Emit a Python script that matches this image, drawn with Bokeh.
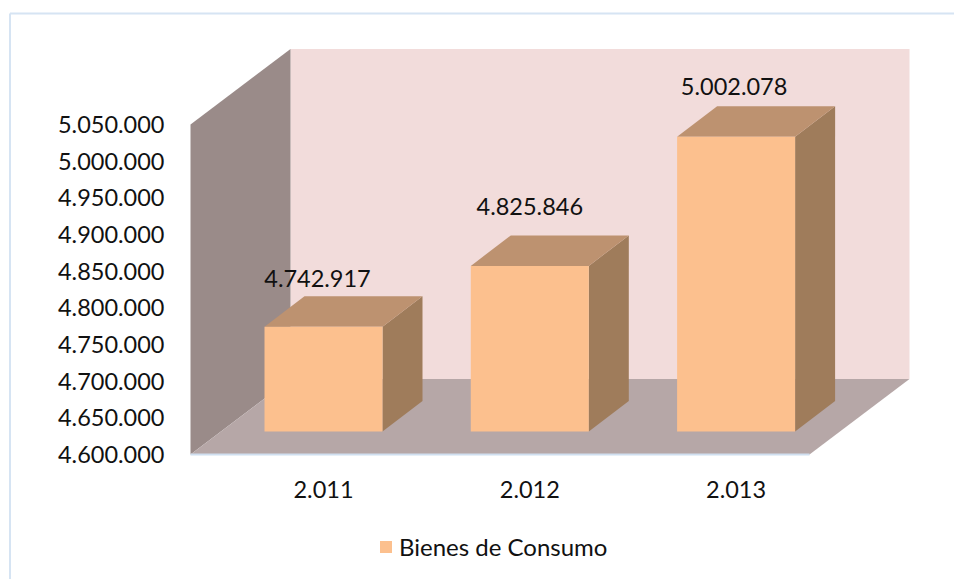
from bokeh.plotting import figure
from bokeh.models import FixedTicker, Range1d, Legend, LegendItem, LinearAxis, ColumnDataSource
from bokeh.core.properties import value
from bokeh.embed import file_html
from bokeh.resources import INLINE

# --- data ---
categories = ["2.011", "2.012", "2.013"]
series_name = "Bienes de Consumo"
series_values = [4742917, 4825846, 5002078]
value_labels = ["4.742.917", "4.825.846", "5.002.078"]
y_ticks = [4600000, 4650000, 4700000, 4750000, 4800000, 4850000, 4900000, 4950000, 5000000, 5050000]
y_tick_labels = ["4.600.000", "4.650.000", "4.700.000", "4.750.000", "4.800.000",
                 "4.850.000", "4.900.000", "4.950.000", "5.000.000", "5.050.000"]

# --- layout (page pixels) ---
W, H = 954, 579
PX_X = 206.3           # pixels per category
PX_Y = 330 / 450000    # pixels per value unit
X0_PAGE = 323.0        # page x of the first category
Y0_PAGE = 454.0        # page y of the axis minimum
AXIS_MIN, AXIS_MAX = y_ticks[0], y_ticks[-1]
FONT = "Lato"
FS = "23.5px"

def dx(px): return px / PX_X
def dy(px): return px / PX_Y
def X(page_x): return (page_x - X0_PAGE) / PX_X
def Y(page_y): return AXIS_MIN + (Y0_PAGE - page_y) / PX_Y

p = figure(width=W, height=H, output_backend="svg", toolbar_location=None,
           x_range=Range1d(X(0), X(W)), y_range=Range1d(Y(H), Y(0)),
           x_axis_location=None, y_axis_location=None, min_border=0,
           outline_line_color=None, tools="")
p.grid.visible = False

# chart-area border
p.multi_line(xs=[[X(9.5), X(9.5)], [X(9.5), X(W)]],
             ys=[[Y(H), Y(13)], [Y(13), Y(13)]],
             line_color="#d6e4f3", line_width=2)

# 3-D box
wall_l = X(190)
floor_w = dx(619)
room_dx, room_dy = dx(100), dy(75.5)
wall_r = wall_l + floor_w
p.patch([wall_l + room_dx, wall_r + room_dx, wall_r + room_dx, wall_l + room_dx],
        [AXIS_MIN + room_dy, AXIS_MIN + room_dy, AXIS_MAX + room_dy, AXIS_MAX + room_dy],
        fill_color="#f2dcdb", line_color=None)
p.patch([wall_l, wall_l + room_dx, wall_l + room_dx, wall_l],
        [AXIS_MIN, AXIS_MIN + room_dy, AXIS_MAX + room_dy, AXIS_MAX],
        fill_color="#9a8b89", line_color=None)
p.patch([wall_l, wall_r, wall_r + room_dx, wall_l + room_dx],
        [AXIS_MIN, AXIS_MIN, AXIS_MIN + room_dy, AXIS_MIN + room_dy],
        fill_color="#b6a7a7", line_color=None)

# 3-D bars, standing a little behind the front edge of the floor
half = dx(118) / 2
bar_dx, bar_dy = dx(40), dy(30.5)
lift = dy(23)
base = AXIS_MIN + lift
xs = list(range(len(series_values)))
tops = [v + lift for v in series_values]
fronts_x, fronts_y, sides_x, sides_y, tops_x, tops_y = [], [], [], [], [], []
for i, t in zip(xs, tops):
    l, r = i - half, i + half
    fronts_x.append([l, r, r, l]); fronts_y.append([base, base, t, t])
    sides_x.append([r, r + bar_dx, r + bar_dx, r]); sides_y.append([base, base + bar_dy, t + bar_dy, t])
    tops_x.append([l, r, r + bar_dx, l + bar_dx]); tops_y.append([t, t, t + bar_dy, t + bar_dy])
p.patches(sides_x, sides_y, fill_color="#9f7c5b", line_color=None)
p.patches(tops_x, tops_y, fill_color="#bd9270", line_color=None)
front = p.patches(fronts_x, fronts_y, fill_color="#fcc08e", line_color=None)

# value labels
label_rise_px = [48, 59, 50]
label_shift_px = [-6, 0, -2]
src = ColumnDataSource(dict(x=xs, y=tops, t=value_labels,
                            xo=label_shift_px, yo=[-r for r in label_rise_px]))
p.text(x="x", y="y", text="t", source=src, x_offset="xo", y_offset="yo",
       text_align="center", text_baseline="middle", text_color="#111111",
       text_font=value(FONT), text_font_size=FS)

# axes drawn inside the canvas
yax = LinearAxis(fixed_location=wall_l, ticker=FixedTicker(ticks=y_ticks),
                 major_label_overrides=dict(zip(y_ticks, y_tick_labels)),
                 axis_line_color=None, major_tick_line_color=None, minor_tick_line_color=None,
                 major_label_standoff=20, major_label_text_font=FONT,
                 major_label_text_font_size=FS, major_label_text_color="#111111")
p.add_layout(yax, "left")
xax = LinearAxis(fixed_location=Y(453.5), ticker=FixedTicker(ticks=xs),
                 major_label_overrides=dict(zip(xs, categories)),
                 bounds=(wall_l, wall_r), axis_line_color="#d0dff0", axis_line_width=2,
                 major_tick_line_color=None, minor_tick_line_color=None,
                 major_label_standoff=21, major_label_text_font=FONT,
                 major_label_text_font_size=FS, major_label_text_color="#111111")
p.add_layout(xax, "below")

legend = Legend(items=[LegendItem(label=series_name, renderers=[front], index=0)],
                location=(378, 18), orientation="horizontal", border_line_color=None,
                background_fill_color=None, background_fill_alpha=0,
                padding=0, margin=0, glyph_width=15, glyph_height=15, label_standoff=6,
                label_text_font=FONT, label_text_font_size="24px", label_text_color="#111111")
p.add_layout(legend)

open("out.html", "w").write(file_html(p, INLINE))
